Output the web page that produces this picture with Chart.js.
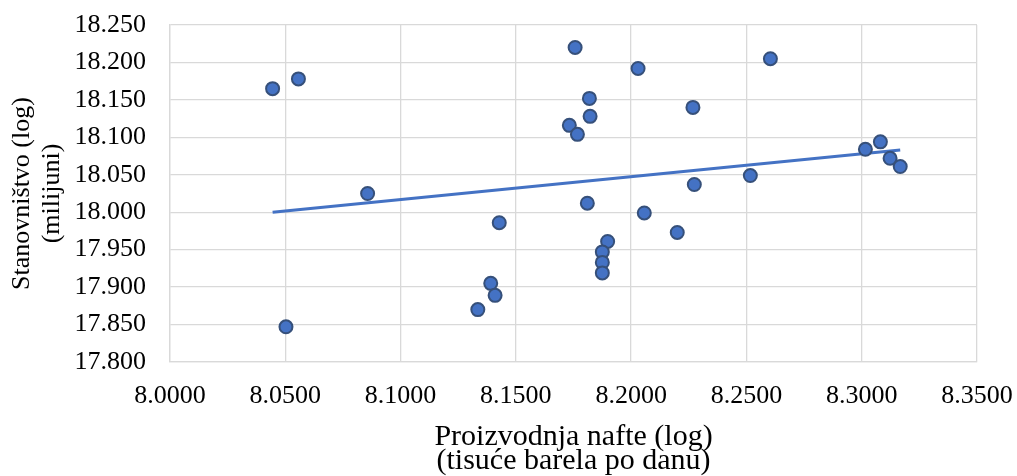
<!DOCTYPE html>
<html>
<head>
<meta charset="utf-8">
<script src="https://cdn.jsdelivr.net/npm/chart.js@4/dist/chart.umd.min.js"></script>
<style>
  html, body { margin: 0; padding: 0; background: #fff; }
  #wrap { width: 1017px; height: 476px; }
</style>
</head>
<body>
<div id="wrap"><canvas id="chart" width="1017" height="476"></canvas></div>
<script>
/* ---------- DATA ---------- */

// proizvodnja nafte (log) – x
const oilLog = [
    8.0445, 8.0557, 8.0857, 8.1757, 8.1819, 8.1822, 8.1732, 8.1767,
    8.2030, 8.2604, 8.2268, 8.3016, 8.3081, 8.3123, 8.3167, 8.2517,
    8.2274, 8.1810, 8.2057, 8.1428, 8.2200, 8.1898, 8.1875, 8.1875,
    8.1875, 8.1391, 8.1410, 8.1335, 8.0503
];

// stanovnistvo (log) – y
const popLog = [
    18.165, 18.178, 18.025, 18.220, 18.152, 18.128, 18.116, 18.104,
    18.192, 18.205, 18.140, 18.084, 18.094, 18.072, 18.061, 18.049,
    18.037, 18.012, 17.999, 17.986, 17.973, 17.961, 17.947, 17.933,
    17.919, 17.905, 17.889, 17.870, 17.847
];

// linear trend, end points
const trendX = [8.0445, 8.3167];
const trendY = [18.000, 18.083];

const xTicks = [8.00, 8.05, 8.10, 8.15, 8.20, 8.25, 8.30, 8.35];
const yTicks = [17.80, 17.85, 17.90, 17.95, 18.00, 18.05, 18.10, 18.15, 18.20, 18.25];

/* ---------- CHART ---------- */

const serif = "'Liberation Serif', 'Times New Roman', serif";
const gridColor = "#d9d9d9";

const points = oilLog.map((x, i) => ({ x: x, y: popLog[i] }));
const trend = trendX.map((x, i) => ({ x: x, y: trendY[i] }));

// keep the plot box where the reference has it (no label overflow padding)
function noOverflow(s) {
    s.paddingTop = 0;
    s.paddingBottom = 0;
    s.paddingLeft = 0;
    s.paddingRight = 0;
}

new Chart(document.getElementById("chart"), {
    type: "scatter",
    data: {
        datasets: [
            {
                label: "Stanovništvo",
                data: points,
                backgroundColor: "#4472c4",
                borderColor: "#36507a",
                borderWidth: 2,
                pointRadius: 6.5,
                order: 0
            },
            {
                type: "line",
                label: "Trend",
                data: trend,
                borderColor: "#4472c4",
                borderWidth: 3,
                pointRadius: 0,
                fill: false,
                order: 1
            }
        ]
    },
    options: {
        responsive: false,
        animation: false,
        layout: { padding: { top: 25, right: 40, bottom: 0, left: 0 } },
        plugins: {
            legend: { display: false },
            tooltip: { enabled: false }
        },
        scales: {
            x: {
                type: "linear",
                min: 8.0,
                max: 8.35,
                afterBuildTicks: s => { s.ticks = xTicks.map(v => ({ value: v })); },
                afterFit: s => { s.height = 114; noOverflow(s); },
                ticks: {
                    color: "#000",
                    padding: 19,
                    maxRotation: 0,
                    font: { family: serif, size: 26 },
                    callback: v => Number(v).toFixed(4)
                },
                grid: { color: gridColor, lineWidth: 1.3, drawTicks: false },
                border: { color: gridColor, width: 1.3 },
                title: {
                    display: true,
                    text: ["Proizvodnja nafte (log)", "(tisuće barela po danu)"],
                    color: "#000",
                    font: { family: serif, size: 30, lineHeight: 0.83 },
                    padding: { top: 0, bottom: 2 }
                }
            },
            y: {
                type: "linear",
                min: 17.8,
                max: 18.25,
                afterBuildTicks: s => { s.ticks = yTicks.map(v => ({ value: v })); },
                afterFit: s => { s.width = 170; noOverflow(s); },
                ticks: {
                    color: "#000",
                    padding: 24,
                    font: { family: serif, size: 26 },
                    callback: v => Number(v).toFixed(3)
                },
                grid: { color: gridColor, lineWidth: 1.3, drawTicks: false },
                border: { color: gridColor, width: 1.3 },
                title: {
                    display: true,
                    text: ["Stanovništvo (log)", "(milijuni)"],
                    color: "#000",
                    font: { family: serif, size: 26, lineHeight: 1.15 },
                    padding: { top: 7, bottom: 0 }
                }
            }
        }
    }
});
</script>
</body>
</html>
